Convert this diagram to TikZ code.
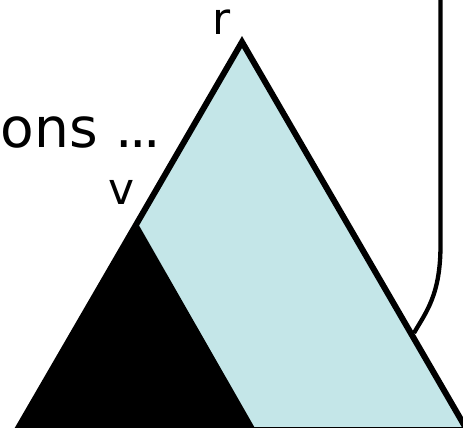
\documentclass[tikz,border=0pt]{standalone}
\usepackage{fontspec}
\setmainfont{DejaVu Sans}
\usetikzlibrary{positioning}
\definecolor{treeblue}{HTML}{C4E6E8}

\begin{document}
\begin{tikzpicture}[
        x=1pt, y=-1pt,
        edge/.style={line width=6pt, line join=miter},
        link/.style={line width=4.3pt},
        lbl/.style={font=\fontsize{44}{44}\selectfont, inner sep=0pt},
        txt/.style={font=\fontsize{55}{55}\selectfont, inner sep=0pt}
    ]
        \useasboundingbox (0,0) rectangle (463,428);

        % corners of the tree and of the subtree
        \coordinate (root) at (242,42);
        \coordinate (left) at (17,430);
        \coordinate (right) at (467,430);
        \coordinate (sub) at (137,222);
        \coordinate (subright) at (256,430);
        \coordinate (top) at (440.5,-5);
        \coordinate (bend) at (440.5,245);
        \coordinate (hook) at (414,333);

        \fill[treeblue] (root) -- (left) -- (right) -- cycle;
        \fill[black] (sub) -- (left) -- (subright) -- cycle;
        \draw[edge] (root) -- (left) -- (right) -- cycle;

        \node[lbl, anchor=base] (rlabel) at (222,35) {r};
        \node[lbl, anchor=base] (vlabel) at (122,204) {v};
        \node[txt, anchor=base east] (more) at (161,147) {ons .\kern-3.5pt.\kern-3.5pt.};

        \draw[link] (top) -- (bend) .. controls (440.5,295) and (426,312) .. (hook);
    \end{tikzpicture}
\end{document}
